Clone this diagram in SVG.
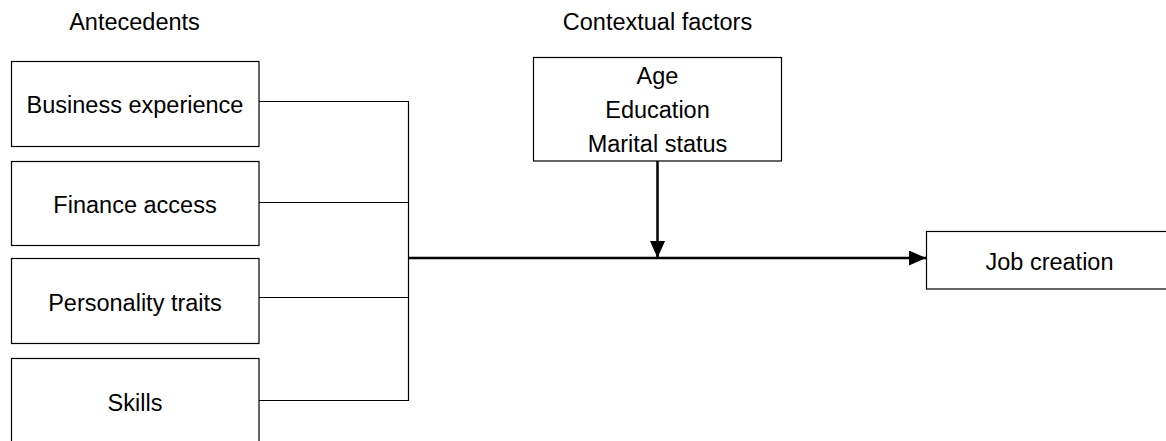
<svg xmlns="http://www.w3.org/2000/svg" width="1166" height="441" viewBox="0 0 1166 441">
  <style>
    .box { fill: #fff; stroke: #000; stroke-width: 1.2; }
    .lbl { font-family: "Liberation Sans", Arial, sans-serif; font-size: 23.5px; fill: #000; text-anchor: middle; }
    .thin { fill: none; stroke: #000; stroke-width: 1.2; }
    .thick { fill: none; stroke: #000; stroke-width: 2.5; }
  </style>
  <defs>
    <marker id="arrow" markerUnits="userSpaceOnUse" markerWidth="18" markerHeight="16" refX="17" refY="7.5" orient="auto">
      <polygon points="0,0 17,7.5 0,15" fill="#000"/>
    </marker>
  </defs>
  <rect width="1166" height="441" fill="#fff"/>

  <g id="titles">
    <text class="lbl" x="134.5" y="29.5">Antecedents</text>
    <text class="lbl" x="657.5" y="29.5">Contextual factors</text>
  </g>

  <g id="connectors">
    <line class="thin" x1="259" y1="101.5" x2="408.5" y2="101.5"/>
    <line class="thin" x1="259" y1="202.5" x2="408.5" y2="202.5"/>
    <line class="thin" x1="259" y1="297.5" x2="408.5" y2="297.5"/>
    <line class="thin" x1="259" y1="400.5" x2="408.5" y2="400.5"/>
    <line class="thin" x1="408.5" y1="101" x2="408.5" y2="401"/>
    <line class="thick" x1="408" y1="258" x2="926" y2="258" marker-end="url(#arrow)"/>
    <line class="thick" x1="657.5" y1="161" x2="657.5" y2="258" marker-end="url(#arrow)"/>
  </g>

  <g id="node-business-experience">
    <rect class="box" x="11.5" y="61.5" width="247.5" height="85"/>
    <text class="lbl" x="135" y="112.5">Business experience</text>
  </g>
  <g id="node-finance-access">
    <rect class="box" x="11.5" y="161.5" width="247.5" height="84"/>
    <text class="lbl" x="135" y="212.5">Finance access</text>
  </g>
  <g id="node-personality-traits">
    <rect class="box" x="11.5" y="258.5" width="247.5" height="85"/>
    <text class="lbl" x="135" y="310.5">Personality traits</text>
  </g>
  <g id="node-skills">
    <rect class="box" x="11.5" y="358.5" width="247.5" height="100"/>
    <text class="lbl" x="135" y="410.5">Skills</text>
  </g>
  <g id="node-contextual">
    <rect class="box" x="533.5" y="57.5" width="248" height="103.5"/>
    <text class="lbl" x="657.5" y="83.5">Age</text>
    <text class="lbl" x="657.5" y="118">Education</text>
    <text class="lbl" x="657.5" y="151.5">Marital status</text>
  </g>
  <g id="node-job-creation">
    <rect class="box" x="926.5" y="231.5" width="260" height="57.5"/>
    <text class="lbl" x="1049.5" y="269.5">Job creation</text>
  </g>
</svg>
